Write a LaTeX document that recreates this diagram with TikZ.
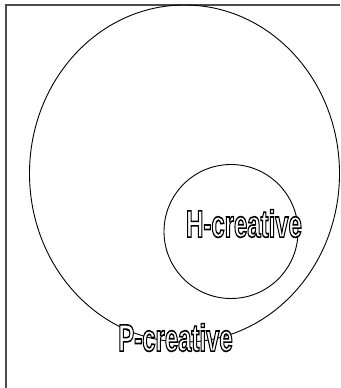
\documentclass[tikz,border=0pt]{standalone}
\usepackage{fontspec}
\setmainfont{Liberation Sans}
\usepackage{tikz}
\usetikzlibrary{shapes.geometric}
\newcommand{\hollowtext}[1]{\special{pdf:literal 2 Tr 1.6 w 1 g 0 G}#1\special{pdf:literal 0 Tr 0 g}}

\begin{document}
\begin{tikzpicture}[x=1pt,y=-1pt,every node/.style={inner sep=0pt},
        setname/.style={font=\fontsize{38}{38}\selectfont\bfseries,xscale=0.63}]
        \useasboundingbox (0,0) rectangle (340,388);
        \coordinate (topright) at (340,5);
        \coordinate (corner) at (6,5);
        \coordinate (bottomleft) at (6,388);
        \draw[black!70,line width=1.6pt] (topright) -- (corner) -- (bottomleft);
        \node[draw,ellipse,line width=0.9pt,minimum width=310pt,minimum height=337pt] (pset) at (184.5,173.5) {};
        \node[draw,circle,line width=0.9pt,minimum size=134pt] (hset) at (231,231.5) {};
        \node[setname] (hname) at (244,223.5) {\hollowtext{H-creative}};
        \node[setname] (pname) at (175.5,337.5) {\hollowtext{P-creative}};
    \end{tikzpicture}
\end{document}
